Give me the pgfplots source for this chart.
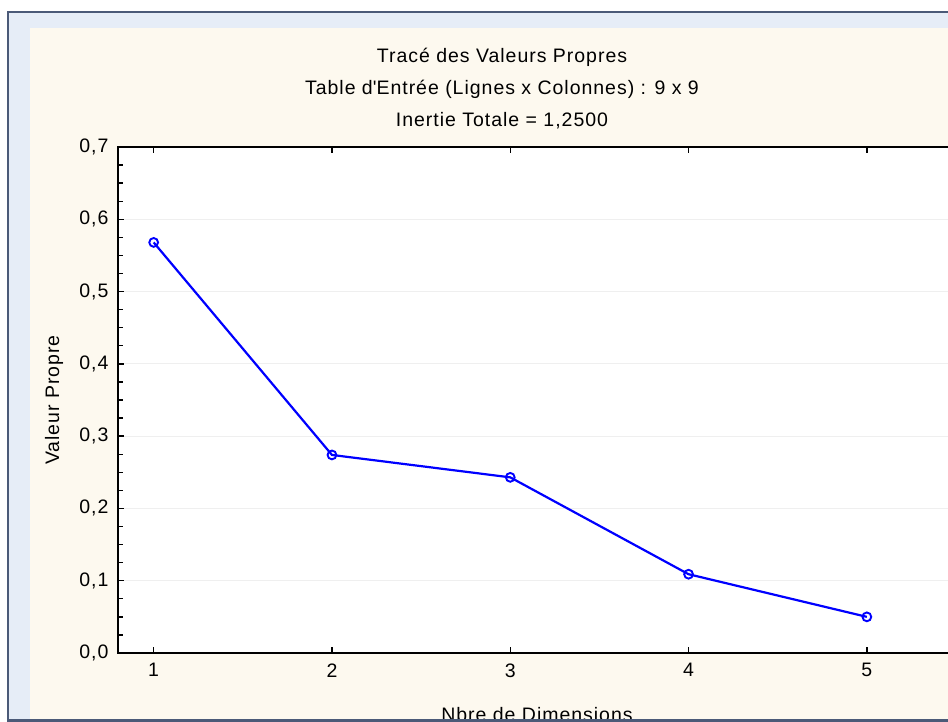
\documentclass[border=0pt]{standalone}
\usepackage{fontspec}
\setmainfont{Liberation Sans}[LetterSpace=5]
\usepackage{pgfplots}
\pgfplotsset{compat=1.18}

\definecolor{framec}{HTML}{4B5A78}
\definecolor{stripc}{HTML}{E6EDF7}
\definecolor{creamc}{HTML}{FDF9EF}
\definecolor{gridc}{HTML}{EFEFEF}
\newcommand\cf{\fontsize{19.5}{23}\selectfont}

\begin{document}
\begin{tikzpicture}[x=1pt,y=1pt]
\path[use as bounding box] (0,0) rectangle (948,-722);
\begin{scope}
\clip (0,0) rectangle (948,-722);
% window frame and panel
\fill[white] (0,0) rectangle (948,-722);
\fill[framec] (7,-11) rectangle (960,-730);
\fill[stripc] (9,-13) rectangle (960,-719);
\fill[creamc] (30,-28) rectangle (960,-719);

% titles
\node[font=\cf, anchor=base, inner sep=0] at (502,-63) {Tracé des Valeurs Propres};
\node[font=\cf, anchor=base, inner sep=0] at (502,-95) {Table d\textquotesingle Entrée (Lignes x Colonnes) : 9 x 9};
\node[font=\cf, anchor=base, inner sep=0] at (502,-126.5) {Inertie Totale = 1,2500};

\begin{axis}[
    at={(118pt,-653pt)}, anchor=south west,
    width=838pt, height=506pt, scale only axis,
    xmin=0.8, xmax=5.5, ymin=0, ymax=0.7,
    xtick={1,2,3,4,5},
    ytick={0,0.1,0.2,0.3,0.4,0.5,0.6,0.7},
    minor y tick num=3,
    ytick pos=left,
    tick align=inside,
    major tick length=6pt, minor tick length=5pt,
    every tick/.style={black, line width=1.3pt},
    axis line style={black, line width=2.2pt},
    axis background/.style={fill=white},
    ymajorgrids,
    grid style={gridc, line width=0.8pt},
    /pgf/number format/assume math mode=true,
    ticklabel style={font=\cf},
    yticklabel style={xshift=-6pt, /pgf/number format/.cd, fixed, fixed zerofill, precision=1, use comma},
    xticklabel style={yshift=-7pt},
    xlabel={Nbre de Dimensions},
    ylabel={Valeur Propre},
    xlabel style={font=\cf, at={(rel axis cs:0.5,-0.1354)}, anchor=base, inner sep=0},
    ylabel style={font=\cf, at={(rel axis cs:-0.0764,0.5)}, anchor=center, inner sep=0},
]
\addplot[blue, line width=2.2pt, mark=o, mark size=4.4pt, mark options={line width=1.9pt, solid}]
    coordinates {(1,0.568) (2,0.274) (3,0.243) (4,0.109) (5,0.050)};
\end{axis}

% bottom edge of the window drawn over the cut label
\fill[framec] (7,-719) rectangle (960,-722);
\end{scope}
\end{tikzpicture}
\end{document}
